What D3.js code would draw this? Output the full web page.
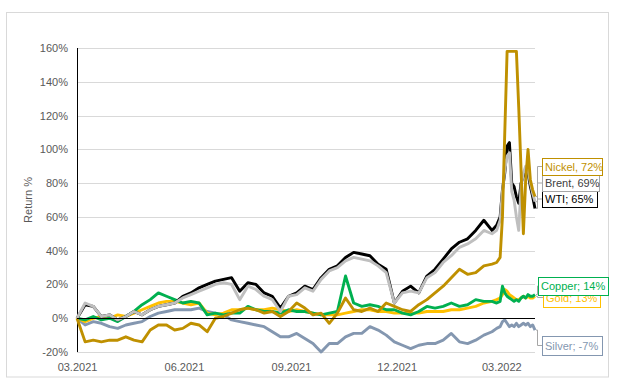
<!DOCTYPE html>
<html>
<head>
<meta charset="utf-8">
<script src="https://cdn.jsdelivr.net/npm/d3@7"></script>
<style>
  body { margin: 0; background: #fff; }
  svg { display: block; font-family: "Liberation Sans", Arial, sans-serif; }
</style>
</head>
<body>
<div id="chart"></div>
<script>
// weekly points, daily-ish around the March 2022 spike
const dates = [
  "2021-03-01","2021-03-08","2021-03-15","2021-03-22","2021-03-29","2021-04-05","2021-04-12","2021-04-19",
  "2021-04-26","2021-05-03","2021-05-10","2021-05-17","2021-05-24","2021-05-31","2021-06-07","2021-06-14",
  "2021-06-21","2021-06-28","2021-07-05","2021-07-12","2021-07-19","2021-07-26","2021-08-02","2021-08-09",
  "2021-08-16","2021-08-23","2021-08-30","2021-09-06","2021-09-13","2021-09-20","2021-09-27","2021-10-04",
  "2021-10-11","2021-10-18","2021-10-25","2021-11-01","2021-11-08","2021-11-15","2021-11-22","2021-11-29",
  "2021-12-06","2021-12-13","2021-12-20","2021-12-27","2022-01-03","2022-01-10","2022-01-17","2022-01-24",
  "2022-01-31","2022-02-07","2022-02-14","2022-02-21",
  "2022-02-25","2022-02-28","2022-03-02","2022-03-04","2022-03-06","2022-03-08","2022-03-10","2022-03-12",
  "2022-03-14","2022-03-16","2022-03-18","2022-03-20","2022-03-22","2022-03-24","2022-03-26","2022-03-28","2022-03-30"
];

// returns in %
const wti = [0,8,7,1,2,-1,1,4,2,5,7,8,9,13,15,18,20,22,23,24,16,21,20,15,13,6,13,15,19,17,24,29,31,36,39,38,37,32,29,9,16,19,15,25,29,35,41,45,47,52,58,52,
  55,60,76,86,102,104,80,78,72,68,80,84,88,86,78,72,65];
const brent = [0,9,7,1,2,-1,1,4,2,5,7,8,9,12,14,16,18,20,21,20,11,19,17,13,11,4,13,14,18,16,23,28,30,34,36,35,34,31,27,9,15,16,15,24,27,33,37,42,44,47,52,50,
  52,58,75,88,96,98,75,70,60,52,78,86,90,88,80,74,69];
const nickel = [0,-14,-13,-14,-13,-13,-11,-13,-14,-7,-4,-4,-7,-6,-3,-4,-8,0,1,3,5,6,5,3,4,1,4,9,6,2,3,-3,3,12,5,4,6,4,9,7,5,4,8,11,15,19,24,29,26,27,31,32,
  33,36,60,110,158,158,158,158,158,125,88,50,82,100,82,76,72];
const copper = [0,-1,1,-1,0,-2,1,4,8,11,15,13,11,9,10,9,2,3,2,3,3,7,5,4,4,3,5,4,4,3,2,3,4,25,9,7,8,7,5,5,3,2,4,7,6,7,9,7,8,11,10,10,
  9,10,19,15,13,12,11,10,11,10,12,13,12,14,13,13,14];
const gold = [0,-2,0,1,0,2,1,3,5,7,9,10,10,9,8,9,3,2,3,5,5,6,5,5,6,5,4,5,4,3,2,2,2,3,4,5,5,4,4,3,3,3,3,4,4,4,5,5,6,7,9,10,
  11,12,14,17,16,14,13,12,11,11,12,13,12,13,12,12,13];
const silver = [0,-4,-2,-3,-5,-6,-4,-3,-2,1,3,4,5,5,5,6,4,3,2,-1,-2,-3,-4,-5,-8,-11,-11,-9,-12,-15,-20,-15,-15,-11,-9,-9,-5,-7,-10,-14,-16,-18,-16,-15,-15,-13,-9,-14,-15,-13,-10,-8,
  -6,-5,-2,-1,-3,-5,-4,-5,-3,-5,-4,-3,-4,-3,-5,-4,-7];

const yTicks = [-20, 0, 20, 40, 60, 80, 100, 120, 140, 160];
const xTickDates = ["2021-03-01", "2021-06-01", "2021-09-01", "2021-12-01", "2022-03-01"];
const xTickLabels = ["03.2021", "06.2021", "09.2021", "12.2021", "03.2022"];

// drawing order (bottom to top) and end-of-line labels
const series = [
  {name: "Silver", values: silver, color: "#8497B0", label: "Silver; -7%", text: "#8497B0", box: [542, 336, 60, 19]},
  {name: "Gold", values: gold, color: "#FFC000", label: "Gold; 13%", text: "#FFC000", box: [543, 288, 57, 19]},
  {name: "Copper", values: copper, color: "#00B050", label: "Copper; 14%", text: "#00B050", box: [538, 277, 70, 18]},
  {name: "WTI", values: wti, color: "#000000", label: "WTI; 65%", text: "#000000", box: [542, 191, 55, 16]},
  {name: "Brent", values: brent, color: "#BFBFBF", label: "Brent, 69%", text: "#404040", box: [542, 175, 57, 16], border: "#A6A6A6"},
  {name: "Nickel", values: nickel, color: "#BF9000", label: "Nickel, 72%", text: "#BF9000", box: [542, 158, 60, 17]}
];

const width = 620, height = 385;
const parse = d3.timeParse("%Y-%m-%d");

const svg = d3.select("#chart").append("svg")
    .attr("width", width).attr("height", height);

// chart frame
svg.append("rect")
    .attr("x", 6.5).attr("y", 12.5).attr("width", 602).attr("height", 364.5)
    .attr("fill", "#fff").attr("stroke", "#D9D9D9");

const x = d3.scaleTime()
    .domain([parse("2021-03-01"), parse("2022-03-30")])
    .range([77, 535]);
const y = d3.scaleLinear().domain([-20, 160]).range([352, 48]);

// gridlines
svg.append("g")
    .selectAll("line")
    .data(yTicks)
    .enter().append("line")
    .attr("x1", 77).attr("x2", 535)
    .attr("y1", d => Math.round(y(d)) + 0.5).attr("y2", d => Math.round(y(d)) + 0.5)
    .attr("stroke", "#D9D9D9").attr("stroke-width", 1);

const yAxis = svg.append("g")
    .attr("transform", "translate(68,0)")
    .call(d3.axisLeft(y).tickValues(yTicks).tickSize(0).tickFormat(d => d + "%"));
yAxis.select(".domain").remove();
yAxis.selectAll("text")
    .attr("x", 0)
    .style("font-size", "11px").style("fill", "#595959")
    .style("font-family", "'Liberation Sans', Arial, sans-serif");

const xAxis = svg.append("g")
    .attr("transform", "translate(0,360)")
    .call(d3.axisBottom(x)
        .tickValues(xTickDates.map(parse))
        .tickSize(0)
        .tickFormat((d, i) => xTickLabels[i]));
xAxis.select(".domain").remove();
xAxis.selectAll("text")
    .attr("y", 3)
    .style("font-size", "11px").style("fill", "#595959")
    .style("font-family", "'Liberation Sans', Arial, sans-serif");

// axis title
svg.append("text")
    .attr("transform", "translate(32,200) rotate(-90)")
    .attr("text-anchor", "middle")
    .style("font-size", "11px").style("fill", "#595959")
    .text("Return %");

// axis lines
svg.append("line")
    .attr("x1", 77.5).attr("x2", 77.5).attr("y1", 48).attr("y2", 352)
    .attr("stroke", "#000").attr("stroke-width", 1);

const line = d3.line()
    .x((d, i) => x(parse(dates[i])))
    .y(d => y(d));

svg.append("g")
    .selectAll("path")
    .data(series)
    .enter().append("path")
    .attr("d", d => line(d.values))
    .attr("fill", "none")
    .attr("stroke", d => d.color)
    .attr("stroke-width", 2.9)
    .attr("stroke-linejoin", "round");

// zero line drawn over the series
svg.append("line")
    .attr("x1", 77).attr("x2", 535)
    .attr("y1", Math.round(y(0)) + 0.5).attr("y2", Math.round(y(0)) + 0.5)
    .attr("stroke", "#000").attr("stroke-width", 1);

// leader lines
const lastX = x(parse(dates[dates.length - 1]));
svg.append("g")
    .selectAll("polyline")
    .data(series)
    .enter().append("polyline")
    .attr("points", d => {
        const yEnd = y(d.values[d.values.length - 1]);
        const yBox = d.box[1] + d.box[3] / 2;
        return [[lastX + 1, yEnd], [537.5, yEnd], [537.5, yBox], [d.box[0], yBox]].join(" ");
    })
    .attr("fill", "none")
    .attr("stroke", "#A6A6A6")
    .attr("stroke-width", 1);

// label boxes
const labels = svg.append("g")
    .selectAll("g")
    .data(series)
    .enter().append("g");

labels.append("rect")
    .attr("x", d => d.box[0] + 0.5).attr("y", d => d.box[1] + 0.5)
    .attr("width", d => d.box[2]).attr("height", d => d.box[3])
    .attr("fill", "#fff")
    .attr("stroke", d => d.border || d.color)
    .attr("stroke-width", 1);

labels.append("text")
    .attr("x", d => d.box[0] + 3)
    .attr("y", d => d.box[1] + d.box[3] / 2 + 4)
    .style("font-size", "11px")
    .style("fill", d => d.text)
    .text(d => d.label);
</script>
</body>
</html>
